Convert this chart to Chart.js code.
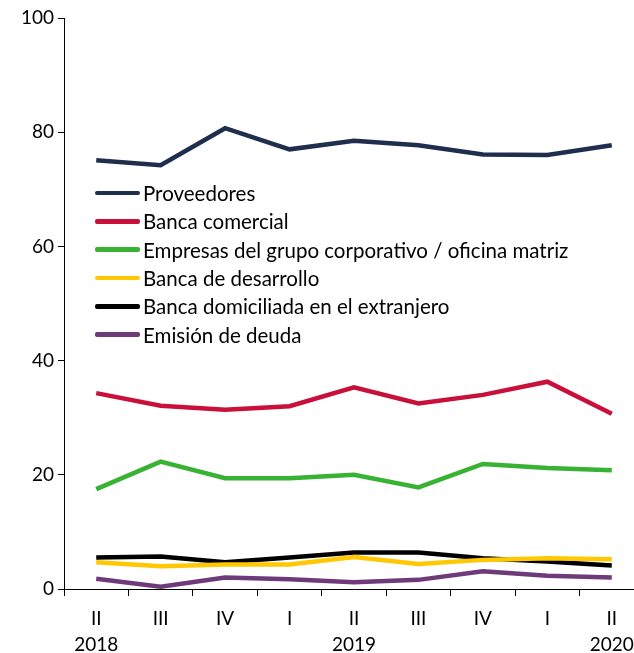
<!DOCTYPE html>
<html lang="es">
<head>
  <meta charset="UTF-8">
  <title>Fuentes de financiamiento</title>
  <script src="https://cdn.jsdelivr.net/npm/chart.js"></script>
  <style>
    body { margin: 0; overflow: hidden; background: #fff; }
    #wrap { position: relative; width: 660px; height: 653px; }
    .legend {
      position: absolute;
      left: 95px;
      top: 179px;
      font-family: Lato, sans-serif;
      font-size: 20.5px;
      color: #000;
    }
    .legend-item {
      display: flex;
      align-items: center;
      height: 28.3px;
    }
    .legend-color {
      width: 45px;
      height: 4.5px;
      border-radius: 2px;
      margin-right: 3px;
    }
  </style>
</head>
<body>
  <div id="wrap">
    <canvas id="chart" width="660" height="653"></canvas>
    <div class="legend" id="legend"></div>
  </div>

  <script>
    const quarters = ['II', 'III', 'IV', 'I', 'II', 'III', 'IV', 'I', 'II'];
    const years = ['2018', '', '', '', '2019', '', '', '', '2020'];

    const seriesNames = [
      'Proveedores',
      'Banca comercial',
      'Empresas del grupo corporativo / oficina matriz',
      'Banca de desarrollo',
      'Banca domiciliada en el extranjero',
      'Emisión de deuda'
    ];
    const seriesColors = [
      'rgb(31, 46, 77)',
      'rgb(200, 16, 58)',
      'rgb(55, 178, 50)',
      'rgb(255, 200, 0)',
      'rgb(0, 0, 0)',
      'rgb(110, 58, 122)'
    ];

    const proveedores = [75.1, 74.2, 80.7, 77.0, 78.5, 77.7, 76.1, 76.0, 77.7];
    const bancaComercial = [34.3, 32.1, 31.4, 32.0, 35.3, 32.5, 34.0, 36.3, 30.7];
    const empresasGrupo = [17.5, 22.3, 19.4, 19.4, 20.0, 17.8, 21.9, 21.2, 20.8];
    const bancaDesarrollo = [4.7, 4.0, 4.3, 4.3, 5.6, 4.4, 5.1, 5.4, 5.2];
    const bancaExtranjero = [5.5, 5.7, 4.7, 5.5, 6.4, 6.4, 5.4, 4.8, 4.1];
    const emisionDeuda = [1.8, 0.4, 2.0, 1.7, 1.2, 1.6, 3.1, 2.3, 2.0];

    const seriesValues = [proveedores, bancaComercial, empresasGrupo, bancaDesarrollo, bancaExtranjero, emisionDeuda];

    const labels = quarters.map((q, i) => [q, years[i]]);

    // later datasets are drawn on top, so black stays above yellow
    const datasets = seriesNames.map((name, i) => ({
      label: name,
      data: seriesValues[i],
      borderColor: seriesColors[i],
      backgroundColor: seriesColors[i],
      borderWidth: 4.5,
      pointRadius: 0,
      tension: 0,
      fill: false
    }));

    const legendEl = document.getElementById('legend');
    datasets.forEach(ds => {
      const item = document.createElement('div');
      item.className = 'legend-item';
      item.innerHTML = '<div class="legend-color" style="background-color: ' + ds.borderColor + ';"></div><span>' + ds.label + '</span>';
      legendEl.appendChild(item);
    });

    const font = { family: 'Lato, sans-serif', size: 19 };

    const options = {
      responsive: false,
      animation: false,
      layout: { padding: { top: 18, right: 16, left: 0, bottom: 0 } },
      plugins: {
        legend: { display: false },
        tooltip: { enabled: false }
      },
      scales: {
        x: {
          offset: true,
          grid: { display: true, offset: true, drawOnChartArea: false, drawTicks: true, tickLength: 7, color: '#000' },
          border: { color: '#000', width: 1 },
          ticks: { color: '#000', font: Object.assign({ lineHeight: 1.37 }, font), maxRotation: 0, autoSkip: false, padding: 10 },
          afterFit: axis => { axis.height = 64; }
        },
        y: {
          min: 0,
          max: 100,
          ticks: { stepSize: 20, color: '#000', font: font, padding: 4 },
          grid: { display: true, drawOnChartArea: false, drawTicks: true, tickLength: 6, color: '#000' },
          border: { color: '#000', width: 1 },
          afterFit: axis => { axis.width = 64; }
        }
      }
    };

    const ctx = document.getElementById('chart').getContext('2d');
    new Chart(ctx, { type: 'line', data: { labels: labels, datasets: datasets }, options: options });
  </script>
</body>
</html>
